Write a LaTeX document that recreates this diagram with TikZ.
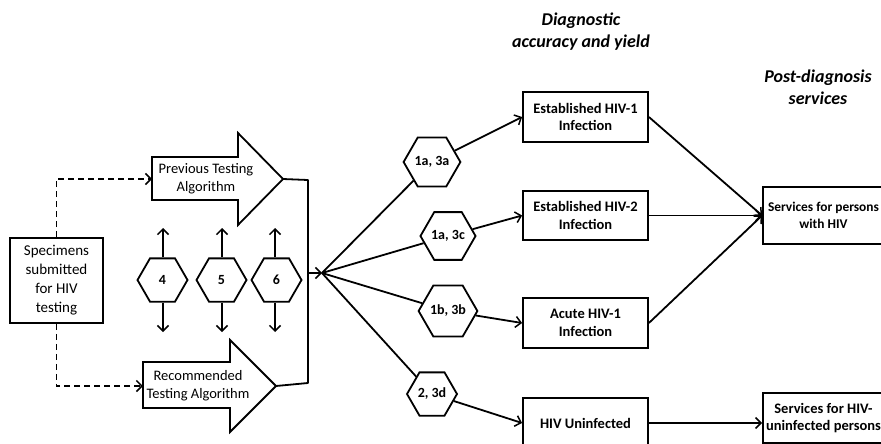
\documentclass[tikz,border=0pt]{standalone}
\usepackage{fontspec}
\setmainfont{Carlito}
\usetikzlibrary{shapes.geometric,arrows.meta}
\begin{document}
\begin{tikzpicture}[x=1pt,y=-1pt,
  lw/.style={line width=1.8pt},
  tip/.style={-{Straight Barb[length=5.5pt,width=11pt,line width=1.5pt]}},
  conn/.style={lw,tip},
  dconn/.style={lw,tip,dash pattern=on 6pt off 4pt},
  box/.style={draw,lw,inner sep=0pt,align=center,minimum width=125pt,
    font=\bfseries\fontsize{14.5}{17.5}\selectfont},
  hexa/.style={draw,lw,regular polygon,regular polygon sides=6,minimum size=50pt,
    inner sep=0pt,font=\bfseries\fontsize{14}{16}\selectfont},
  blk/.style={draw,lw,fill=white},
  blktext/.style={align=center,inner sep=0pt,font=\fontsize{14.5}{18}\selectfont},
  title/.style={align=center,inner sep=0pt,font=\bfseries\itshape\fontsize{18}{22}\selectfont}
]
\clip (0,0) rectangle (881,444);
\useasboundingbox (0,0) rectangle (881,444);

% titles
\node[title] (t1) at (581,32) {Diagnostic\\accuracy and yield};
\node[title] (t2) at (818,87) {Post-diagnosis\\services};

% specimens
\node[draw,lw,inner sep=0pt,minimum width=93pt,minimum height=85pt,align=center,
  font=\fontsize{15}{19}\selectfont] (spec) at (56.5,280.5) {Specimens\\submitted\\for HIV\\testing};

% block arrows
\draw[blk] (152,157) -- (238,157) -- (238,133) -- (283,179) -- (238,225) -- (238,200) -- (152,200) -- cycle;
\node[blktext] (prev) at (206,179) {Previous Testing\\Algorithm};
\coordinate (pl) at (152,179);
\coordinate (pt) at (283,179);

\draw[blk] (143,362) -- (230,362) -- (230,340) -- (276,386) -- (230,432) -- (230,408) -- (143,408) -- cycle;
\node[blktext] (rec) at (198,386) {Recommended\\Testing Algorithm};
\coordinate (rl) at (143,386);
\coordinate (rt) at (276,386);

\draw[dconn] (spec.north) |- (pl);
\draw[dconn] (spec.south) |- (rl);

% merge line
\coordinate (m1) at (308,180);
\coordinate (m2) at (308,383);
\coordinate (mm) at (308,273);
\coordinate (fan) at (322,273);
\draw[lw,line join=round] (pt) -- (m1) -- (m2) -- (rt);
\draw[conn] (mm) -- (fan);

% hexagons 4 5 6
\node[hexa] (h4) at (162.5,280) {4};
\node[hexa] (h5) at (221.5,280) {5};
\node[hexa] (h6) at (276.5,280) {6};
\foreach \h/\x in {h4/163,h5/222,h6/275}{
  \coordinate (\h u) at (\x,228);
  \coordinate (\h d) at (\x,332);
  \draw[conn] (\h.north -| \h u) -- (\h u);
  \draw[conn] (\h.south -| \h d) -- (\h d);
}

% diagnostic hexagons
\node[hexa] (ha) at (432,162) {1a, 3a};
\node[hexa] (hb) at (448,236) {1a, 3c};
\node[hexa] (hc) at (448,311) {1b, 3b};
\node[hexa] (hd) at (432,394) {2, 3d};

% outcome boxes
\node[box,minimum height=50pt] (b1) at (585.5,117) {Established HIV-1\\Infection};
\node[box,minimum height=49pt] (b2) at (585.5,215.5) {Established HIV-2\\Infection};
\node[box,minimum height=50pt] (b3) at (585.5,323) {Acute HIV-1\\Infection};
\node[box,minimum height=50pt] (b4) at (585.5,423) {HIV Uninfected};

% services
\node[box,minimum width=121pt,minimum height=57pt,font=\bfseries\fontsize{13.4}{17.5}\selectfont] (s1) at (823.5,215.5) {Services for persons\\with HIV};
\node[box,minimum width=121pt,minimum height=50pt] (s2) at (823.5,418) {Services for HIV-\\uninfected persons};

% fan lines
\foreach \h in {ha,hb,hc,hd}{\draw[lw] (fan) -- (\h);}
\draw[conn] (ha) -- (b1.west);
\draw[conn] (hb) -- (b2.west);
\draw[conn] (hc) -- (b3.west);
\draw[conn] (hd) -- (b4.west);

\draw[conn] (b1.east) -- (s1.west);
\draw[conn] (b2.east) -- (s1.west);
\draw[conn] (b3.east) -- (s1.west);
\draw[conn] (b4.east) -- (b4.east -| s2.west);
\end{tikzpicture}
\end{document}
